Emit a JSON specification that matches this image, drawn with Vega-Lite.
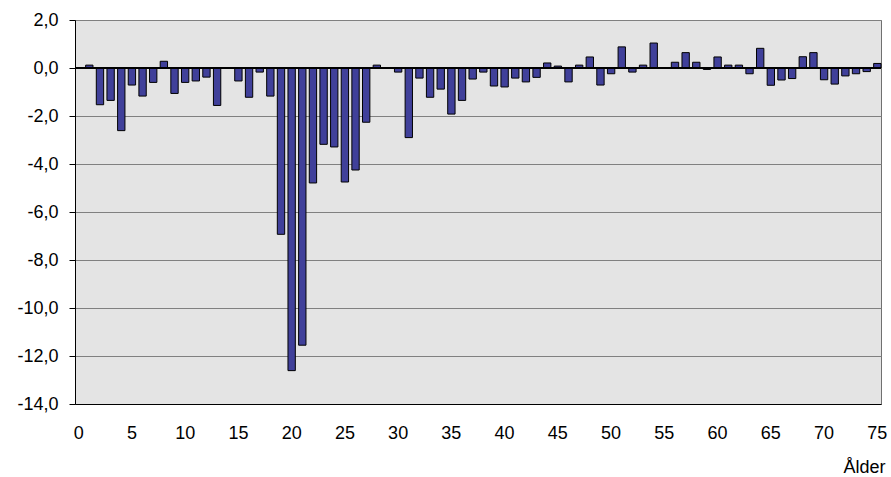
{
  "$schema": "https://vega.github.io/schema/vega-lite/v6.json",
  "width": 806,
  "height": 384,
  "autosize": {"type": "none"},
  "padding": {"left": 75, "top": 20, "right": 10, "bottom": 73},
  "background": "white",
  "config": {
    "view": {"fill": "#e4e4e4", "stroke": "#707070", "strokeWidth": 1},
    "font": "Liberation Sans"
  },
  "data": {
    "values": [
      {"alder": 1, "v": 0.12}, {"alder": 2, "v": -1.53}, {"alder": 3, "v": -1.35}, {"alder": 4, "v": -2.61},
      {"alder": 5, "v": -0.71}, {"alder": 6, "v": -1.17}, {"alder": 7, "v": -0.6}, {"alder": 8, "v": 0.28},
      {"alder": 9, "v": -1.06}, {"alder": 10, "v": -0.6}, {"alder": 11, "v": -0.54}, {"alder": 12, "v": -0.38},
      {"alder": 13, "v": -1.56}, {"alder": 14, "v": 0}, {"alder": 15, "v": -0.54}, {"alder": 16, "v": -1.22},
      {"alder": 17, "v": -0.17}, {"alder": 18, "v": -1.17}, {"alder": 19, "v": -6.93}, {"alder": 20, "v": -12.61},
      {"alder": 21, "v": -11.55}, {"alder": 22, "v": -4.79}, {"alder": 23, "v": -3.18}, {"alder": 24, "v": -3.29},
      {"alder": 25, "v": -4.75}, {"alder": 26, "v": -4.25}, {"alder": 27, "v": -2.26}, {"alder": 28, "v": 0.12},
      {"alder": 29, "v": 0}, {"alder": 30, "v": -0.17}, {"alder": 31, "v": -2.9}, {"alder": 32, "v": -0.42},
      {"alder": 33, "v": -1.22}, {"alder": 34, "v": -0.88}, {"alder": 35, "v": -1.92}, {"alder": 36, "v": -1.35},
      {"alder": 37, "v": -0.46}, {"alder": 38, "v": -0.17}, {"alder": 39, "v": -0.75}, {"alder": 40, "v": -0.79},
      {"alder": 41, "v": -0.42}, {"alder": 42, "v": -0.58}, {"alder": 43, "v": -0.39}, {"alder": 44, "v": 0.21},
      {"alder": 45, "v": 0.08}, {"alder": 46, "v": -0.58}, {"alder": 47, "v": 0.12}, {"alder": 48, "v": 0.46},
      {"alder": 49, "v": -0.71}, {"alder": 50, "v": -0.24}, {"alder": 51, "v": 0.88}, {"alder": 52, "v": -0.17},
      {"alder": 53, "v": 0.12}, {"alder": 54, "v": 1.04}, {"alder": 55, "v": 0}, {"alder": 56, "v": 0.24},
      {"alder": 57, "v": 0.64}, {"alder": 58, "v": 0.24}, {"alder": 59, "v": -0.06}, {"alder": 60, "v": 0.46},
      {"alder": 61, "v": 0.12}, {"alder": 62, "v": 0.12}, {"alder": 63, "v": -0.24}, {"alder": 64, "v": 0.82},
      {"alder": 65, "v": -0.72}, {"alder": 66, "v": -0.5}, {"alder": 67, "v": -0.44}, {"alder": 68, "v": 0.47},
      {"alder": 69, "v": 0.64}, {"alder": 70, "v": -0.49}, {"alder": 71, "v": -0.67}, {"alder": 72, "v": -0.33},
      {"alder": 73, "v": -0.24}, {"alder": 74, "v": -0.15}, {"alder": 75, "v": 0.19}
    ]
  },
  "layer": [
    {
      "mark": {"type": "bar", "color": "#40409a", "stroke": "#000000", "strokeWidth": 1},
      "encoding": {
        "x": {
          "field": "alder",
          "type": "ordinal",
          "scale": {
            "domain": [0,1,2,3,4,5,6,7,8,9,10,11,12,13,14,15,16,17,18,19,20,21,22,23,24,25,26,27,28,29,30,31,32,33,34,35,36,37,38,39,40,41,42,43,44,45,46,47,48,49,50,51,52,53,54,55,56,57,58,59,60,61,62,63,64,65,66,67,68,69,70,71,72,73,74,75],
            "paddingInner": 0.31,
            "paddingOuter": 0
          },
          "axis": {
            "values": [0,5,10,15,20,25,30,35,40,45,50,55,60,65,70,75],
            "labelAngle": 0,
            "ticks": false,
            "domain": true,
            "domainColor": "#000000",
            "labelFontSize": 18,
            "labelColor": "#000000",
            "labelPadding": 20,
            "title": "Ålder",
            "titleFontSize": 18,
            "titleFontWeight": "normal",
            "titleColor": "#000000",
            "titleAnchor": "end",
            "titleAlign": "right",
            "titleBaseline": "alphabetic",
            "titleX": 810,
            "titleY": 68
          }
        },
        "y": {
          "field": "v",
          "type": "quantitative",
          "scale": {"domain": [-14, 2], "nice": false, "zero": false},
          "axis": {
            "values": [-14,-12,-10,-8,-6,-4,-2,0,2],
            "labelExpr": "replace(replace(format(datum.value, '.1f'), '.', ','), '\u2212', '-')",
            "grid": true,
            "gridColor": "#808080",
            "gridWidth": 1,
            "tickSize": 6,
            "tickColor": "#000000",
            "domain": true,
            "domainColor": "#000000",
            "labelFontSize": 18,
            "labelColor": "#000000",
            "labelPadding": 11,
            "title": null
          }
        }
      }
    },
    {
      "mark": {"type": "rule", "color": "#000000", "strokeWidth": 1},
      "encoding": {"y": {"datum": 0, "type": "quantitative"}}
    }
  ]
}
